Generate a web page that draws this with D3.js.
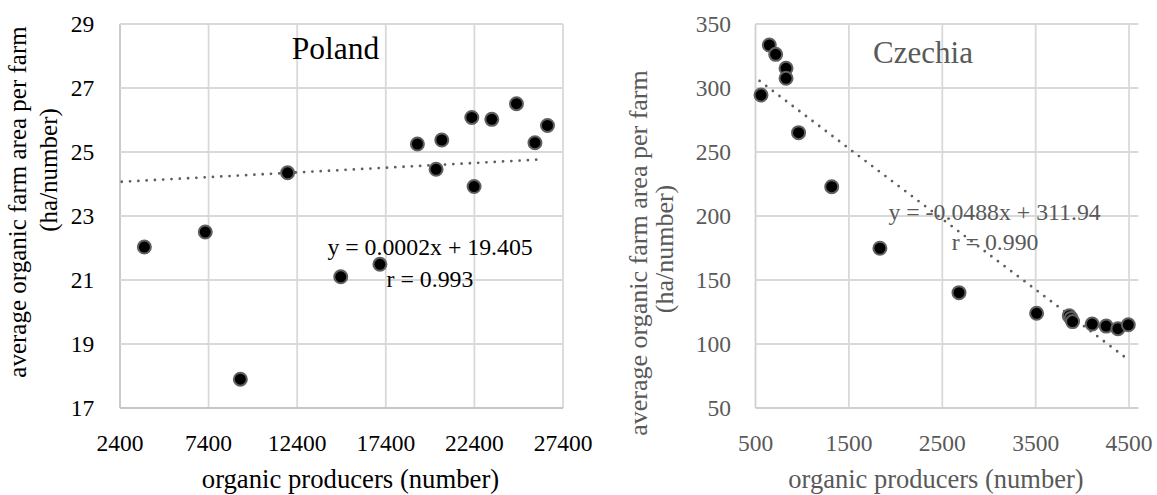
<!DOCTYPE html>
<html>
<head>
<meta charset="utf-8">
<script src="https://cdn.jsdelivr.net/npm/d3@7"></script>
<style>
  body { margin: 0; background: #fff; }
  svg { display: block; }
  text { font-family: "Liberation Serif", "Times New Roman", serif; }
</style>
</head>
<body>
<div class="charts"></div>
<script>
const width = 1157
const height = 495

// Poland: organic producers vs average farm area
const polandProducers = [3775, 7212, 9192, 11858, 14858, 17067, 19183, 20239, 20560, 22253, 22383, 23382, 24775, 25817, 26525]
const polandArea = [22.03, 22.5, 17.9, 24.35, 21.1, 21.49, 25.25, 24.46, 25.375, 26.08, 23.92, 26.02, 26.51, 25.29, 25.83]
const polandTrendX = [2500, 26257]
const polandTrendY = [24.07, 24.77]
const polandXTicks = [2400, 7400, 12400, 17400, 22400, 27400]
const polandYTicks = [17, 19, 21, 23, 25, 27, 29]

// Czechia
const czechProducers = [559, 648, 716, 827, 827, 961, 1316, 1832, 2679, 3510, 3860, 3880, 3895, 4105, 4255, 4381, 4492]
const czechArea = [294.5, 333.6, 326.3, 315.4, 307.6, 265.1, 222.9, 174.8, 140.1, 124, 122, 120, 117.5, 115.6, 114, 112, 115]
const czechTrendX = [544, 4453]
const czechTrendY = [305.5, 89.9]
const czechXTicks = [500, 1500, 2500, 3500, 4500]
const czechYTicks = [50, 100, 150, 200, 250, 300, 350]

const svg = d3.create("svg")
  .attr("width", width)
  .attr("height", height)

function drawPanel(opt) {
  const x = d3.scaleLinear().domain(opt.xDomain).range(opt.xRange)
  const y = d3.scaleLinear().domain(opt.yDomain).range([408, 24])
  const g = svg.append("g")

  // gridlines (first one on each axis is the axis line, a bit darker)
  g.selectAll(".vgrid")
    .data(opt.xTicks)
    .join("line")
    .attr("x1", d => x(d)).attr("x2", d => x(d))
    .attr("y1", y.range()[0]).attr("y2", y.range()[1])
    .attr("stroke", (d, i) => i == 0 ? opt.axisColor : "#d9d9d9")
    .attr("stroke-width", 1.8)

  g.selectAll(".hgrid")
    .data(opt.yTicks)
    .join("line")
    .attr("x1", opt.xRange[0]).attr("x2", opt.xRange[1])
    .attr("y1", d => y(d)).attr("y2", d => y(d))
    .attr("stroke", (d, i) => i == 0 ? opt.axisColor : "#d9d9d9")
    .attr("stroke-width", 1.8)

  // tick labels
  g.append("g")
    .selectAll("text")
    .data(opt.xTicks)
    .join("text")
    .attr("x", d => x(d))
    .attr("y", 451)
    .attr("text-anchor", "middle")
    .style("font-size", opt.tickSize + "px")
    .attr("fill", opt.color)
    .text(d => d)

  g.append("g")
    .selectAll("text")
    .data(opt.yTicks)
    .join("text")
    .attr("x", opt.yLabelRight)
    .attr("y", d => y(d))
    .attr("dy", "0.35em")
    .attr("text-anchor", "end")
    .style("font-size", opt.tickSize + "px")
    .attr("fill", opt.color)
    .text(d => d)

  // axis titles
  g.append("text")
    .attr("x", opt.xTitleX)
    .attr("y", 488)
    .attr("text-anchor", "middle")
    .style("font-size", opt.xTitleSize + "px")
    .attr("fill", opt.color)
    .text("organic producers (number)")

  opt.yTitle.forEach(t => {
    g.append("text")
      .attr("transform", `translate(${t.x}, ${t.y}) rotate(-90)`)
      .attr("text-anchor", "middle")
      .style("font-size", opt.yTitleSize + "px")
      .attr("fill", opt.color)
      .text(t.text)
  })

  // country name + equation
  g.append("text")
    .attr("x", opt.name.x)
    .attr("y", opt.name.y)
    .attr("text-anchor", "middle")
    .style("font-size", opt.name.size + "px")
    .attr("fill", opt.color)
    .text(opt.name.text)

  opt.labels.forEach(l => {
    g.append("text")
      .attr("x", l.x)
      .attr("y", l.y)
      .style("font-size", "23.8px")
      .attr("fill", opt.color)
      .text(l.text)
  })

  // trend line
  const trend = opt.trendX.map((v, i) => [v, opt.trendY[i]])
  g.append("path")
    .attr("d", d3.line().x(d => x(d[0])).y(d => y(d[1]))(trend))
    .attr("fill", "none")
    .attr("stroke", "#5f5f5f")
    .attr("stroke-width", 2.8)
    .attr("stroke-linecap", "round")
    .attr("stroke-dasharray", "0 8.3")

  // points
  g.append("g")
    .selectAll("circle")
    .data(opt.xs.map((v, i) => [v, opt.ys[i]]))
    .join("circle")
    .attr("cx", d => x(d[0]))
    .attr("cy", d => y(d[1]))
    .attr("r", 6.5)
    .attr("fill", "#000")
    .attr("stroke", "#606060")
    .attr("stroke-width", 2)
}

drawPanel({
  xs: polandProducers, ys: polandArea,
  trendX: polandTrendX, trendY: polandTrendY,
  xTicks: polandXTicks, yTicks: polandYTicks,
  xDomain: [2400, 27400], xRange: [120, 563],
  yDomain: [17, 29],
  color: "#000",
  axisColor: "#c6c6c6",
  tickSize: 23.5,
  yLabelRight: 94.3,
  xTitleX: 350.5, xTitleSize: 26.7,
  yTitleSize: 25,
  yTitle: [
    {text: "average organic farm area per farm", x: 26, y: 202},
    {text: "(ha/number)", x: 57, y: 170}
  ],
  name: {text: "Poland", x: 335.4, y: 59, size: 31.5},
  labels: [
    {text: "y = 0.0002x + 19.405", x: 327.4, y: 255},
    {text: "r = 0.993", x: 386.6, y: 287}
  ]
})

drawPanel({
  xs: czechProducers, ys: czechArea,
  trendX: czechTrendX, trendY: czechTrendY,
  xTicks: czechXTicks, yTicks: czechYTicks,
  xDomain: [500, 4600], xRange: [755.5, 1138.4],
  yDomain: [50, 350],
  color: "#595959",
  axisColor: "#d0d0d0",
  tickSize: 23.5,
  yLabelRight: 730.9,
  xTitleX: 936, xTitleSize: 26.5,
  yTitleSize: 26,
  yTitle: [
    {text: "average organic farm area per farm", x: 647, y: 253},
    {text: "(ha/number)", x: 673, y: 249}
  ],
  name: {text: "Czechia", x: 923, y: 62.7, size: 31},
  labels: [
    {text: "y = -0.0488x + 311.94", x: 888.4, y: 220},
    {text: "r = 0.990", x: 951.7, y: 250}
  ]
})

document.querySelector(".charts").append(svg.node())
</script>
</body>
</html>
